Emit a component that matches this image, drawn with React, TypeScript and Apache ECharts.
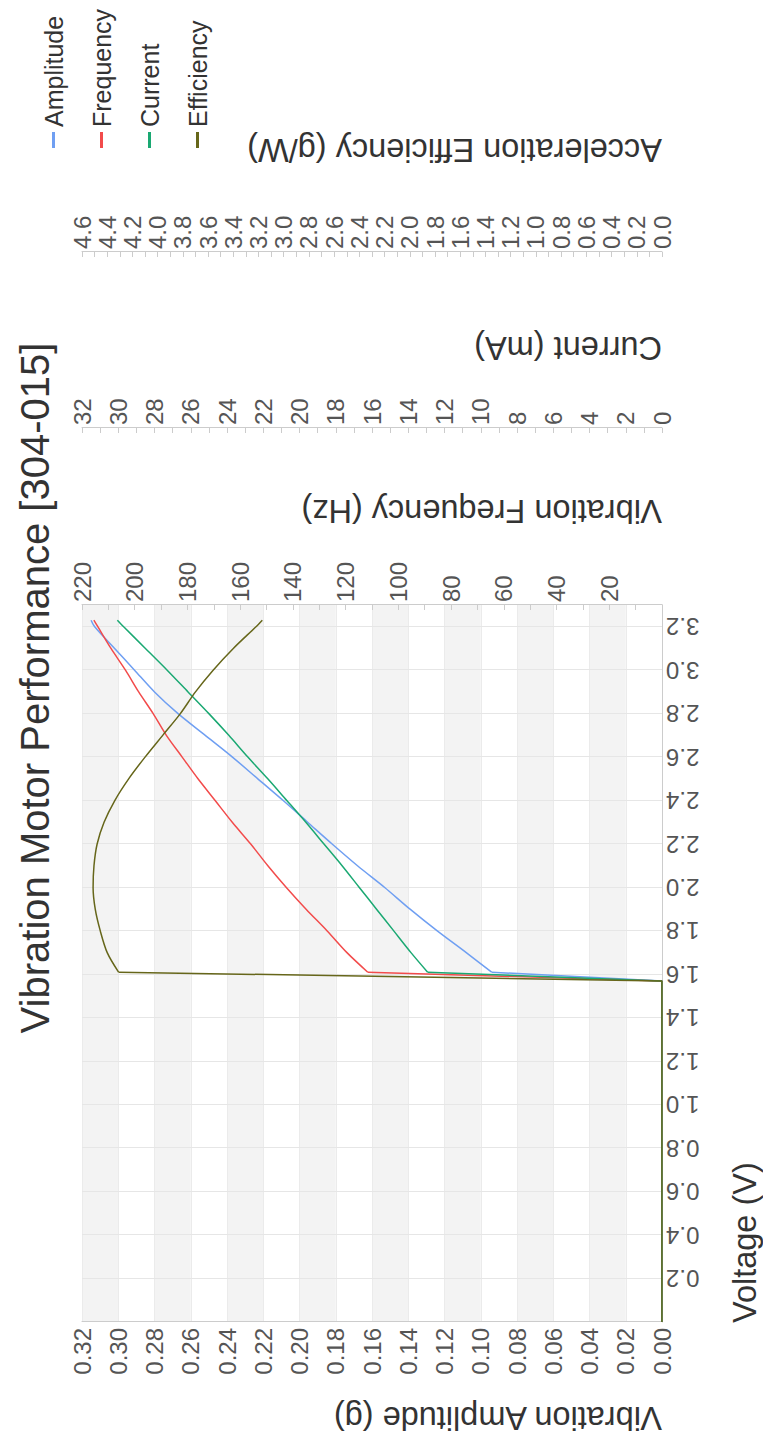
import React, { useEffect, useRef } from "react";
import * as echarts from "echarts";

// Chart is laid out in landscape (1444 x 763) and turned a quarter turn
// counter-clockwise to fill the 763 x 1444 portrait page.
const CHART_W = 1444;
const CHART_H = 763;

const TITLE = "Vibration Motor Performance [304-015]";

// Below the start-up voltage the motor does not run: every reading is zero.
const idleVoltage = [0, 0.2, 0.4, 0.6, 0.8, 1.0, 1.2, 1.4, 1.57];

// Running range (V)
const runVoltage = [1.61, 1.7, 1.8, 1.9, 2.0, 2.1, 2.2, 2.3, 2.4, 2.5, 2.6, 2.7, 2.8, 2.9, 3.0, 3.1, 3.2, 3.23];
// Vibration amplitude (g)
const amplitude = [0.094, 0.108, 0.124, 0.139, 0.153, 0.168, 0.182, 0.1955, 0.209, 0.223, 0.237, 0.252, 0.267, 0.28, 0.291, 0.302, 0.313, 0.315];
// Vibration frequency (Hz)
const frequency = [111.6, 119.5, 127, 135, 142.5, 149.5, 156, 163, 169.5, 176, 182, 188, 193, 198.5, 203.5, 209, 214, 215.5];
// Supply current (mA)
const current = [12.93, 13.85, 14.8, 15.75, 16.7, 17.65, 18.65, 19.65, 20.7, 21.75, 22.85, 23.9, 25.0, 26.15, 27.3, 28.5, 29.7, 30.05];
// Acceleration efficiency (g/W)
const efficiency = [4.31, 4.4, 4.455, 4.495, 4.512, 4.505, 4.48, 4.425, 4.34, 4.23, 4.1, 3.96, 3.82, 3.7, 3.56, 3.4, 3.22, 3.17];

const seriesNames = ["Amplitude", "Frequency", "Current", "Efficiency"];
const seriesColors = ["#6f9ff2", "#f24b4b", "#1aa872", "#66661a"];
const seriesValues = [amplitude, frequency, current, efficiency];

const axisTitles = [
  "Vibration Amplitude (g)",
  "Vibration Frequency (Hz)",
  "Current (mA)",
  "Acceleration Efficiency (g/W)",
];
const xAxisTitle = "Voltage (V)";

const FONT = "'Liberation Sans', Arial, Helvetica, sans-serif";
const LABEL_COLOR = "#555555";
const LINE_COLOR = "#cccccc";

function rightAxis(offset: number, max: number, interval: number, digits: number | null, showMin: boolean) {
  return {
    type: "value",
    position: "right",
    offset,
    min: 0,
    max,
    interval,
    axisLine: { show: true, lineStyle: { color: LINE_COLOR } },
    axisTick: { show: true, inside: true, length: 5, lineStyle: { color: LINE_COLOR } },
    minorTick: { show: true, splitNumber: 2, length: 5, lineStyle: { color: LINE_COLOR } },
    axisLabel: {
      margin: 3,
      fontSize: 24,
      color: LABEL_COLOR,
      fontFamily: FONT,
      showMinLabel: showMin,
      formatter: (v: number) => (digits === null ? String(Math.round(v)) : v.toFixed(digits)),
    },
    splitLine: { show: false },
    splitArea: { show: false },
  };
}

function nameText(text: string, x: number, y: number, rotated: boolean) {
  return {
    type: "text",
    x,
    y,
    rotation: rotated ? Math.PI / 2 : 0,
    silent: true,
    style: {
      text,
      fill: "#333333",
      fontSize: 32.5,
      fontFamily: FONT,
      align: "left",
      verticalAlign: "middle",
    },
  };
}

// Each quantity is drawn as a straight rise from the idle zero run up to the
// start-up point, followed by a smoothed curve over the running range.
function buildSeries() {
  const out: any[] = [];
  seriesNames.forEach((name, i) => {
    const values = seriesValues[i];
    const base = {
      name,
      type: "line",
      yAxisIndex: i,
      showSymbol: false,
      symbol: "none",
      color: seriesColors[i],
      lineStyle: { width: 1.5, color: seriesColors[i] },
    };
    out.push({
      ...base,
      smooth: false,
      data: [...idleVoltage.map((v) => [v, 0]), [runVoltage[0], values[0]]],
    });
    out.push({
      ...base,
      smooth: 0.3,
      data: runVoltage.map((v, k) => [v, values[k]]),
    });
  });
  return out;
}

export default function App() {
  const ref = useRef<HTMLDivElement>(null);

  useEffect(() => {
    if (!ref.current) return;
    const chart = echarts.init(ref.current, null, { renderer: "svg" });
    chart.setOption({
      animation: false,
      backgroundColor: "#ffffff",
      textStyle: { fontFamily: FONT },
      title: {
        text: TITLE,
        left: 751,
        top: 10,
        textAlign: "center",
        textStyle: { fontSize: 40, fontWeight: "normal", color: "#333333", fontFamily: FONT },
      },
      legend: {
        orient: "vertical",
        left: 1291,
        top: 36,
        icon: "rect",
        itemWidth: 16,
        itemHeight: 3,
        itemGap: 23,
        textStyle: { fontSize: 25, color: "#333333", fontFamily: FONT },
        data: seriesNames,
      },
      grid: { left: 122, top: 82, width: 717, height: 580, outerBoundsMode: "none", show: false },
      xAxis: {
        type: "value",
        min: 0,
        max: 3.3,
        interval: 0.2,
        axisLine: { show: true, lineStyle: { color: LINE_COLOR } },
        axisTick: { show: false },
        axisLabel: {
          rotate: 90,
          margin: 4,
          fontSize: 24,
          color: LABEL_COLOR,
          fontFamily: FONT,
          showMinLabel: false,
          showMaxLabel: false,
          formatter: (v: number) => v.toFixed(1),
        },
        splitLine: { show: true, lineStyle: { color: "#e6e6e6" } },
      },
      yAxis: [
        {
          type: "value",
          position: "left",
          min: 0,
          max: 0.32,
          interval: 0.02,
          axisLine: { show: true, lineStyle: { color: LINE_COLOR } },
          axisTick: { show: false },
          axisLabel: {
            margin: 6,
            fontSize: 24,
            color: LABEL_COLOR,
            fontFamily: FONT,
            formatter: (v: number) => v.toFixed(2),
          },
          splitLine: { show: true, lineStyle: { color: "#ebebeb" } },
          splitArea: { show: true, areaStyle: { color: ["#ffffff", "#f3f3f3"] } },
        },
        rightAxis(0, 220, 20, null, false),
        rightAxis(177, 32, 2, null, true),
        rightAxis(353, 4.6, 0.2, 1, true),
      ],
      series: buildSeries(),
      graphic: [
        nameText(xAxisTitle, 121, 745, false),
        nameText(axisTitles[0], 26, 662, true),
        nameText(axisTitles[1], 933, 662, true),
        nameText(axisTitles[2], 1096, 662, true),
        nameText(axisTitles[3], 1294, 662, true),
      ],
    });
    return () => chart.dispose();
  }, []);

  return (
    <div
      style={{
        position: "absolute",
        left: 0,
        top: 0,
        width: CHART_H,
        height: CHART_W,
        overflow: "hidden",
        background: "#ffffff",
      }}
    >
      <div
        ref={ref}
        style={{
          width: CHART_W,
          height: CHART_H,
          transformOrigin: "0 0",
          transform: `translate(0px, ${CHART_W}px) rotate(-90deg)`,
        }}
      />
    </div>
  );
}
